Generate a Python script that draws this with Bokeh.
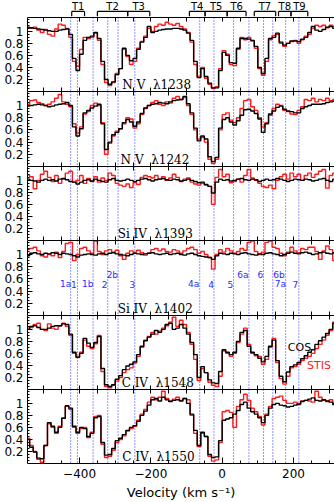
from bokeh.plotting import figure
from bokeh.layouts import column
from bokeh.models import Range1d, FixedTicker, LinearAxis, Span
from bokeh.core.properties import value
from bokeh.embed import file_html
from bokeh.resources import INLINE

# ---------------- data ----------------
VELOCITY = [-545, -535, -525, -515, -505, -495, -485, -475, -465, -455,
            -445, -435, -425, -415, -405, -395, -385, -375, -365, -355,
            -345, -335, -325, -315, -305, -295, -285, -275, -265, -255,
            -245, -235, -225, -215, -205, -195, -185, -175, -165, -155,
            -145, -135, -125, -115, -105, -95, -85, -75, -65, -55,
            -45, -35, -25, -15, -5, 5, 15, 25, 35, 45,
            55, 65, 75, 85, 95, 105, 115, 125, 135, 145,
            155, 165, 175, 185, 195, 205, 215, 225, 235, 245,
            255, 265, 275, 285, 295, 305, 315]

NV1238_COS = [1.07, 1.06, 1.05, 1.04, 1.03, 1.02, 1.01, 1.0, 1.0, 1.02,
              1.03, 1.04, 0.95, 0.55, 0.35, 0.62, 0.85, 0.9, 0.92, 0.98,
              0.88, 0.5, 0.2, 0.12, 0.16, 0.28, 0.38, 0.72, 0.6, 0.51,
              0.55, 0.7, 0.82, 0.9, 1.08, 0.98, 1.0, 1.02, 1.03, 1.04,
              1.04, 1.05, 1.05, 1.04, 1.02, 0.97, 0.85, 0.5, 0.23, 0.38,
              0.25, 0.14, 0.06, 0.06, 0.35, 0.65, 0.6, 0.48, 0.47, 0.72,
              0.88, 0.88, 0.87, 0.85, 0.75, 0.4, 0.3, 0.55, 0.88, 0.9,
              0.97, 0.82, 0.77, 0.8, 0.84, 0.84, 0.83, 0.87, 0.9, 0.98,
              1.08, 1.02, 1.0, 1.03, 1.07, 1.08, 1.05]
NV1238_STIS = [1.06, 1.05, 1.07, 1.02, 0.98, 1.03, 0.95, 0.92, 1.04, 1.12,
               1.1, 1.05, 0.9, 0.5, 0.42, 0.7, 0.9, 0.88, 0.9, 0.97,
               0.85, 0.45, 0.15, 0.1, 0.15, 0.3, 0.38, 0.7, 0.58, 0.45,
               0.5, 0.72, 0.83, 0.92, 1.05, 1.0, 1.08, 1.12, 1.1, 1.15,
               1.12, 1.1, 1.13, 1.08, 1.04, 0.98, 0.82, 0.45, 0.25, 0.4,
               0.22, 0.12, 0.05, 0.08, 0.38, 0.68, 0.62, 0.45, 0.43, 0.7,
               0.9, 0.86, 0.9, 0.84, 0.72, 0.38, 0.27, 0.5, 0.86, 0.93,
               0.95, 0.8, 0.75, 0.8, 0.83, 0.85, 0.8, 0.86, 0.92, 0.95,
               1.05, 1.1, 1.08, 1.1, 1.06, 1.1, 1.08]

NV1242_COS = [0.99, 1.0, 1.01, 1.02, 1.01, 1.0, 0.98, 0.99, 1.01, 1.02,
              1.03, 1.05, 1.0, 0.65, 0.5, 0.62, 0.88, 0.92, 0.96, 0.99,
              1.02, 0.7, 0.28, 0.4, 0.52, 0.56, 0.62, 0.72, 0.77, 0.73,
              0.66, 0.73, 0.87, 0.96, 1.0, 1.02, 1.03, 1.05, 1.04, 1.03,
              1.06, 1.08, 1.09, 1.1, 1.15, 1.03, 0.88, 0.63, 0.42, 0.5,
              0.45, 0.16, 0.08, 0.15, 0.63, 0.77, 0.8, 0.73, 0.68, 0.75,
              0.84, 0.93, 0.94, 0.91, 0.87, 0.78, 0.56, 0.7, 0.86, 0.91,
              0.97, 0.99, 0.94, 0.91, 0.9, 0.88, 0.88, 0.95, 0.98, 1.0,
              1.02, 1.02, 1.02, 1.03, 1.05, 1.06, 1.07]
NV1242_STIS = [1.02, 1.08, 1.09, 1.05, 1.03, 1.0, 1.02, 1.06, 1.12, 1.18,
               1.06, 1.02, 0.98, 0.7, 0.55, 0.65, 0.86, 0.9, 1.0, 1.04,
               1.0, 0.72, 0.2, 0.38, 0.5, 0.58, 0.62, 0.7, 0.8, 0.78,
               0.63, 0.7, 0.85, 0.95, 1.0, 1.05, 1.08, 1.02, 1.0, 1.06,
               1.04, 1.12, 1.15, 1.1, 1.13, 1.0, 0.85, 0.6, 0.45, 0.48,
               0.4, 0.12, 0.05, 0.12, 0.6, 0.85, 0.88, 0.76, 0.72, 0.8,
               0.95, 1.08, 1.1, 0.98, 0.92, 0.8, 0.65, 0.72, 0.84, 0.95,
               1.02, 1.0, 0.92, 0.9, 0.86, 0.85, 0.92, 0.98, 1.1, 1.08,
               1.12, 1.06, 1.1, 1.08, 1.12, 1.08, 1.1]

SIIV1393_COS = [1.02, 1.0, 0.99, 0.97, 1.0, 1.02, 1.0, 1.01, 0.99, 1.02,
                1.03, 1.01, 0.98, 0.97, 0.94, 0.97, 1.0, 1.01, 0.99, 1.02,
                1.0, 0.98, 0.97, 1.01, 1.03, 1.0, 0.99, 1.0, 1.02, 1.0,
                0.98, 1.0, 1.02, 1.03, 1.01, 0.99, 1.01, 1.02, 1.03, 1.01,
                1.0, 1.02, 1.01, 0.99, 1.0, 1.02, 1.0, 0.98, 0.96, 0.97,
                0.93, 0.9, 0.79, 0.97, 1.02, 1.0, 1.01, 0.99, 1.0, 1.02,
                1.03, 1.01, 1.0, 1.02, 1.01, 0.98, 1.0, 1.02, 1.0, 1.01,
                1.03, 1.02, 1.0, 0.98, 1.0, 1.02, 1.01, 1.0, 1.02, 1.01,
                0.99, 1.0, 1.02, 1.03, 1.0, 0.98, 1.02]
SIIV1393_STIS = [1.09, 1.06, 0.86, 1.0, 1.1, 1.15, 1.05, 0.98, 1.08, 0.95,
                 1.02, 1.12, 1.15, 0.97, 1.0, 1.08, 0.95, 1.03, 0.98, 1.06,
                 0.97, 1.04, 1.0, 1.12, 1.08, 0.95, 0.92, 0.9, 0.94, 0.88,
                 0.96, 0.93, 1.05, 1.08, 1.06, 1.04, 1.08, 1.02, 1.06, 1.0,
                 1.04, 1.1, 1.05, 0.98, 1.02, 1.04, 0.97, 0.94, 0.92, 0.95,
                 0.92, 0.9, 0.6, 1.05, 1.18, 1.06, 1.1, 0.96, 0.98, 1.02,
                 0.97, 1.08, 1.18, 1.04, 1.0, 0.95, 0.9, 0.88, 0.92, 0.86,
                 1.0, 1.06, 1.1, 1.02, 1.12, 1.06, 1.1, 1.0, 1.08, 1.12,
                 1.05, 1.1, 1.15, 1.18, 0.87, 1.08, 1.12]

SIIV1402_COS = [0.98, 1.02, 1.03, 1.01, 1.0, 1.02, 1.01, 1.03, 1.02, 1.0,
                1.02, 1.01, 1.0, 0.98, 0.96, 0.99, 1.0, 1.01, 1.0, 0.99,
                1.01, 1.02, 1.0, 1.02, 1.03, 1.01, 1.0, 0.99, 0.98, 1.0,
                1.02, 1.01, 1.0, 1.01, 1.02, 1.03, 1.01, 1.0, 1.01, 1.02,
                1.0, 1.01, 1.02, 1.0, 0.99, 1.01, 1.02, 1.0, 0.98, 0.97,
                0.96, 0.95, 0.92, 0.98, 1.02, 1.01, 1.0, 1.02, 1.01, 1.0,
                1.02, 1.03, 1.01, 1.0, 0.99, 1.01, 1.0, 1.02, 1.03, 1.01,
                1.0, 0.98, 1.0, 1.02, 1.04, 1.02, 1.01, 1.03, 1.04, 1.02,
                1.0, 1.01, 1.03, 1.04, 1.02, 1.01, 1.03]
SIIV1402_STIS = [1.08, 1.1, 1.12, 1.06, 0.98, 0.96, 1.0, 0.98, 1.04, 0.95,
                 1.05, 1.18, 1.2, 0.9, 1.0, 1.1, 1.12, 1.06, 1.02, 1.22,
                 1.05, 1.0, 1.06, 1.08, 1.04, 1.07, 0.98, 0.92, 1.02, 1.06,
                 1.04, 1.07, 1.03, 0.99, 1.02, 1.08, 1.1, 1.06, 1.09, 1.05,
                 1.04, 1.08, 1.06, 1.02, 1.06, 1.1, 1.12, 1.08, 1.02, 1.05,
                 1.0, 0.95, 0.76, 1.0, 1.08, 1.04, 1.1, 1.06, 1.02, 1.05,
                 1.1, 1.07, 1.2, 1.22, 1.05, 1.0, 1.04, 1.2, 1.22, 1.12,
                 1.1, 1.02, 0.98, 1.04, 1.12, 1.06, 1.03, 1.1, 1.08, 1.12,
                 1.12, 1.05, 0.92, 1.06, 1.14, 1.08, 0.9]

CIV1548_COS = [1.0, 1.05, 1.06, 1.03, 1.0, 1.0, 1.02, 1.05, 1.06, 1.06,
               1.09, 1.08, 0.92, 0.62, 0.54, 0.6, 0.85, 0.77, 0.7, 0.78,
               0.88, 0.35, 0.08, 0.05, 0.08, 0.17, 0.23, 0.33, 0.39, 0.42,
               0.46, 0.58, 0.72, 0.81, 0.87, 0.92, 0.98, 0.95, 1.0, 1.08,
               1.1, 1.0, 1.02, 1.08, 1.02, 0.92, 0.78, 0.58, 0.2, 0.38,
               0.28, 0.16, 0.11, 0.1, 0.3, 0.66, 0.62, 0.58, 0.62, 0.8,
               0.95, 0.98, 0.72, 0.62, 0.58, 0.52, 0.46, 0.55, 0.72, 0.82,
               0.48, 0.22, 0.13, 0.29, 0.38, 0.41, 0.45, 0.51, 0.56, 0.62,
               0.66, 0.75, 0.81, 0.87, 0.93, 1.0, 1.1]
CIV1548_STIS = [1.02, 1.03, 1.08, 1.1, 1.0, 0.98, 1.09, 1.02, 1.0, 1.06,
                1.1, 1.05, 0.9, 0.6, 0.53, 0.62, 0.82, 0.72, 0.68, 0.76,
                0.9, 0.3, 0.05, 0.03, 0.07, 0.14, 0.2, 0.28, 0.33, 0.36,
                0.44, 0.55, 0.7, 0.82, 0.88, 0.95, 0.92, 0.97, 1.02, 1.06,
                1.12, 1.2, 1.05, 1.15, 1.08, 0.95, 0.75, 0.5, 0.15, 0.35,
                0.28, 0.12, 0.07, 0.05, 0.22, 0.64, 0.6, 0.55, 0.6, 0.78,
                0.92, 1.02, 0.75, 0.6, 0.56, 0.55, 0.42, 0.5, 0.7, 0.85,
                0.45, 0.18, 0.09, 0.22, 0.36, 0.38, 0.42, 0.48, 0.52, 0.55,
                0.6, 0.68, 0.75, 0.82, 0.9, 0.98, 1.12]

CIV1550_COS = [0.4, 0.27, 0.19, 0.09, 0.08, 0.3, 0.68, 0.62, 0.52, 0.6,
               0.75, 0.96, 0.92, 0.62, 0.52, 0.6, 0.58, 0.45, 0.5, 0.76,
               0.78, 0.35, 0.14, 0.15, 0.25, 0.38, 0.42, 0.48, 0.55, 0.6,
               0.63, 0.7, 0.8, 0.87, 0.97, 1.06, 1.08, 1.04, 1.1, 1.06,
               1.03, 1.05, 1.06, 1.04, 1.08, 1.0, 0.82, 0.55, 0.3, 0.52,
               0.45, 0.15, 0.1, 0.11, 0.38, 0.72, 0.74, 0.76, 0.82, 0.88,
               0.98, 1.02, 0.92, 0.86, 0.82, 0.76, 0.68, 0.8, 0.92, 0.98,
               1.0, 0.97, 0.96, 0.94, 0.95, 0.97, 0.99, 1.03, 1.05, 1.07,
               1.09, 1.05, 1.04, 1.06, 1.04, 1.02, 0.98]
CIV1550_STIS = [0.42, 0.3, 0.2, 0.07, 0.02, 0.3, 0.66, 0.6, 0.5, 0.62,
                0.76, 0.95, 0.9, 0.6, 0.5, 0.58, 0.6, 0.43, 0.52, 0.78,
                0.8, 0.32, 0.1, 0.12, 0.22, 0.35, 0.4, 0.46, 0.54, 0.58,
                0.62, 0.72, 0.82, 0.9, 1.02, 1.1, 1.06, 1.1, 1.2, 1.08,
                1.04, 1.07, 1.1, 1.05, 1.08, 1.06, 0.8, 0.5, 0.28, 0.5,
                0.45, 0.12, 0.04, 0.06, 0.35, 0.86, 0.88, 0.85, 0.6, 0.95,
                1.06, 1.15, 1.05, 0.92, 0.86, 0.78, 0.64, 0.82, 0.95, 1.08,
                1.1, 1.12, 1.05, 1.0, 1.0, 1.02, 0.98, 1.04, 1.05, 1.04,
                1.02, 1.2, 1.1, 1.05, 1.03, 1.06, 1.0]

PANEL_TITLES = ["N\u00a0V\u00a0\u00a0\u03bb1238", "N\u00a0V\u00a0\u00a0\u03bb1242",
                "Si\u00a0IV\u00a0\u00a0\u03bb1393", "Si\u00a0IV\u00a0\u00a0\u03bb1402",
                "C\u00a0IV\u00a0\u00a0\u03bb1548", "C\u00a0IV\u00a0\u00a0\u03bb1550"]
TITLE_V = [-280, -285, -293, -293, -282, -280]

COMPONENT_V = [-425, -406, -362, -321, -292, -245, -63, -23, 32, 75, 116, 142, 178, 215]
COMPONENT_LABELS = ["1a", "1", "1b", "2", "2b", "3", "4a", "4", "5", "6a", "6", "6b", "7a", "7"]
COMPONENT_LABEL_V = [-439, -416, -377, -330, -308, -252, -80, -31, 23, 58, 107, 159, 163, 205]
COMPONENT_UPPER = [False, False, False, False, True, False, False, False, False, True, True, True, False, False]

TROUGH_NAMES = ["T1", "T2", "T3", "T4", "T5", "T6", "T7", "T8", "T9"]
TROUGH_START = [-422, -350, -265, -92, -48, 14, 90, 158, 193]
TROUGH_END = [-386, -265, -203, -48, 14, 67, 150, 193, 240]

X_TICKS = [-400, -200, 0, 200]
X_TICK_LABELS = ["\u2212400", "\u2212200", "0", "200"]
X_MINOR = [-500, -450, -350, -300, -250, -150, -100, -50, 50, 100, 150, 250, 300]
Y_TICKS = [0.2, 0.4, 0.6, 0.8, 1.0]
Y_TICK_LABELS = ["0.2", "0.4", "0.6", "0.8", "1"]
Y_MINOR = [0.05, 0.1, 0.15, 0.25, 0.3, 0.35, 0.45, 0.5, 0.55, 0.65, 0.7, 0.75,
           0.85, 0.9, 0.95, 1.05, 1.1, 1.15, 1.2]

SERIES = [(NV1238_COS, NV1238_STIS), (NV1242_COS, NV1242_STIS),
          (SIIV1393_COS, SIIV1393_STIS), (SIIV1402_COS, SIIV1402_STIS),
          (CIV1548_COS, CIV1548_STIS), (CIV1550_COS, CIV1550_STIS)]

# ---------------- layout ----------------
W = 334
LEFT = 27
PANEL_HEIGHTS = [74, 75, 74, 75, 74, 74]
STRIP_H = 17
BOTTOM = 39
BLUE = "#2a2aff"
RED = "#ff1a1a"
XR = Range1d(-546, 315)
TICK_FONT = "DejaVu Sans"


def plain_x_axis(ax):
    # tick marks only (no labels): all ticks drawn as inward marks
    ax.ticker = FixedTicker(ticks=[], minor_ticks=sorted(X_TICKS + X_MINOR))
    ax.minor_tick_in = 4
    ax.minor_tick_out = 0
    ax.major_tick_in = 0
    ax.major_tick_out = 0
    ax.axis_line_color = "black"
    ax.minor_tick_line_color = "black"


strip = figure(width=W, height=STRIP_H, x_range=XR, y_range=Range1d(0, 1),
               output_backend="svg", toolbar_location=None,
               x_axis_type=None, y_axis_type=None,
               min_border_left=LEFT, min_border_right=0,
               min_border_top=0, min_border_bottom=0)
strip.outline_line_color = None
strip.segment(x0=TROUGH_START, x1=TROUGH_END, y0=0.36, y1=0.36, line_color="black", line_width=1.2)
strip.segment(x0=TROUGH_START, x1=TROUGH_START, y0=0.36, y1=0.08, line_color="black", line_width=1.2)
strip.segment(x0=TROUGH_END, x1=TROUGH_END, y0=0.36, y1=0.08, line_color="black", line_width=1.2)
mids = [(a + b) / 2 for a, b in zip(TROUGH_START, TROUGH_END)]
strip.text(x=mids, y=[0.99] * len(mids), text=TROUGH_NAMES, text_align="center",
           text_baseline="top", text_font=value(TICK_FONT), text_font_size="10px",
           text_color="black")

panels = []
for i, (cos, stis) in enumerate(SERIES):
    last = i == len(SERIES) - 1
    p = figure(width=W, height=PANEL_HEIGHTS[i] + (BOTTOM if last else 0), x_range=XR,
               y_range=Range1d(0, 1.23), output_backend="svg", toolbar_location=None,
               min_border_left=LEFT, min_border_right=0, min_border_top=0,
               min_border_bottom=BOTTOM if last else 0)
    p.outline_line_color = None
    p.grid.visible = False

    yax = p.yaxis[0]
    yax.ticker = FixedTicker(ticks=Y_TICKS, minor_ticks=Y_MINOR)
    yax.major_label_overrides = dict(zip(Y_TICKS, Y_TICK_LABELS))
    yax.major_tick_in = 5
    yax.major_tick_out = 0
    yax.minor_tick_in = 2
    yax.minor_tick_out = 0
    yax.major_label_standoff = 4
    yax.major_label_text_font = TICK_FONT
    yax.major_label_text_font_size = "12px"
    yax.major_label_text_color = "black"
    yax.axis_line_color = "black"

    bottom_ax = p.xaxis[0]
    if last:
        bottom_ax.ticker = FixedTicker(ticks=X_TICKS, minor_ticks=X_MINOR)
        bottom_ax.major_tick_in = 6
        bottom_ax.major_tick_out = 0
        bottom_ax.minor_tick_in = 3
        bottom_ax.minor_tick_out = 0
        bottom_ax.axis_line_color = "black"
        bottom_ax.major_label_overrides = dict(zip(X_TICKS, X_TICK_LABELS))
        bottom_ax.major_label_text_font = TICK_FONT
        bottom_ax.major_label_text_font_size = "12px"
        bottom_ax.major_label_text_color = "black"
        bottom_ax.major_label_standoff = 5
        bottom_ax.axis_label = "Velocity (km s\u207b\u00b9)"
        bottom_ax.axis_label_text_font = TICK_FONT
        bottom_ax.axis_label_text_font_size = "13px"
        bottom_ax.axis_label_text_font_style = "normal"
        bottom_ax.axis_label_text_color = "black"
        bottom_ax.axis_label_standoff = 4
    else:
        plain_x_axis(bottom_ax)
    top_ax = LinearAxis()
    plain_x_axis(top_ax)
    p.add_layout(top_ax, "above")

    for v in COMPONENT_V:
        p.add_layout(Span(location=v, dimension="height", line_color=BLUE,
                          line_dash="1 2", line_width=1, level="underlay"))

    p.step(VELOCITY, stis, mode="center", line_color=RED, line_width=1.4)
    p.step(VELOCITY, cos, mode="center", line_color="black", line_width=1.4)

    p.text(x=[TITLE_V[i]], y=[0.1], text=[PANEL_TITLES[i]], text_align="left",
           text_baseline="alphabetic", text_font=value("DejaVu Serif"),
           text_font_size="12px", text_color="black")

    if i == 3:
        ly = [0.665 if up else 0.51 for up in COMPONENT_UPPER]
        p.text(x=COMPONENT_LABEL_V, y=ly, text=COMPONENT_LABELS, text_align="center",
               text_baseline="middle", text_font=value(TICK_FONT), text_font_size="9px",
               text_color=BLUE)
    if i == 4:
        p.text(x=[184], y=[0.70], text=["COS"], text_align="left", text_baseline="alphabetic",
               text_font=value(TICK_FONT), text_font_size="11px", text_color="black")
        p.text(x=[238], y=[0.40], text=["STIS"], text_align="left", text_baseline="alphabetic",
               text_font=value(TICK_FONT), text_font_size="11px", text_color=RED)
    panels.append(p)

layout = column(strip, *panels, spacing=0)
open("out.html", "w").write(file_html(layout, INLINE))
